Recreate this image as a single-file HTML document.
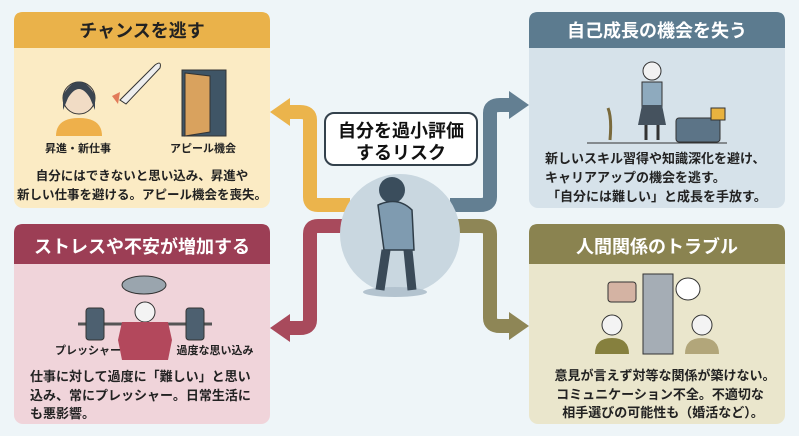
<!DOCTYPE html>
<html><head><meta charset="utf-8"><style>
html,body{margin:0;padding:0;background:#eef5f8;}
svg{display:block;font-family:"Liberation Sans","Noto Sans CJK JP",sans-serif;font-weight:bold;}
</style></head><body>
<svg width="799" height="436" viewBox="0 0 799 436" xmlns="http://www.w3.org/2000/svg">
<rect width="799" height="436" fill="#eef5f8"/>
<g fill="none" stroke-width="14" stroke-linejoin="round">
<path d="M350,205 H318 Q310,205 310,197 V120 Q310,112 300,112 H290" stroke="#ebb44c"/>
<path d="M450,205 H480 Q490,205 490,197 V113 Q490,105 500,105 H512" stroke="#637f92"/>
<path d="M350,226 H318 Q310,226 310,234 V320 Q310,328 300,328 H290" stroke="#a84a5c"/>
<path d="M450,226 H480 Q490,226 490,234 V318 Q490,326 500,326 H512" stroke="#8e8656"/>
</g>
<polygon points="270,112 290,98 290,126" fill="#ebb44c"/>
<polygon points="529,105 509,91 509,119" fill="#637f92"/>
<polygon points="270,328 290,314 290,342" fill="#a84a5c"/>
<polygon points="529,326 509,312 509,340" fill="#8e8656"/>
<circle cx="400" cy="234" r="60" fill="#c9d7e0"/>
<ellipse cx="395" cy="292" rx="32" ry="5" fill="#b3c3cf"/>
<circle cx="392" cy="190" r="13" fill="#3a4d5c"/>
<path d="M378,205 Q398,196 412,210 L414,250 L384,250 Z" fill="#7f9bb0" stroke="#2f3d48" stroke-width="1.5"/>
<path d="M386,250 L380,290 M408,250 L412,290" stroke="#3a4a58" stroke-width="9"/>
<rect x="325" y="113" width="152" height="52" rx="9" fill="#fff" stroke="#33414c" stroke-width="2"/>
<text x="401" y="137" font-size="18" text-anchor="middle" fill="#111">自分を過小評価</text>
<text x="401" y="159" font-size="18" text-anchor="middle" fill="#111">するリスク</text>
<!-- TL -->
<rect x="14" y="12" width="256" height="196" rx="9" fill="#fbebc4"/>
<path d="M14,48 V21 Q14,12 23,12 H261 Q270,12 270,21 V48 Z" fill="#eab24a"/>
<text x="142" y="37" font-size="18" text-anchor="middle" fill="#222">チャンスを逃す</text>
<circle cx="79" cy="98" r="16" fill="#f1dcc5" stroke="#333" stroke-width="1"/>
<path d="M63,95 Q79,68 95,95 L95,110 L90,98 Q79,80 68,98 L63,110Z" fill="#3b4550"/>
<path d="M56,136 Q56,118 79,118 Q102,118 102,136Z" fill="#eeb04b"/>
<path d="M120,100 L155,65 Q162,60 160,68 L126,104Z" fill="#eee" stroke="#333"/>
<path d="M120,92 L112,96 L118,104Z" fill="#e27b5a"/>
<rect x="182" y="70" width="44" height="66" fill="#3f5566" stroke="#333"/>
<path d="M185,73 L210,76 L210,132 L185,136Z" fill="#d9a25e" stroke="#333"/>
<text x="78" y="152" font-size="11" text-anchor="middle" fill="#222">昇進・新仕事</text>
<text x="203" y="152" font-size="11" text-anchor="middle" fill="#222">アピール機会</text>
<text x="142" y="180" font-size="12.5" text-anchor="middle" fill="#222">自分にはできないと思い込み、昇進や</text>
<text x="142" y="199" font-size="12.5" text-anchor="middle" fill="#222">新しい仕事を避ける。アピール機会を喪失。</text>
<!-- TR -->
<rect x="529" y="12" width="256" height="196" rx="9" fill="#d6e2ea"/>
<path d="M529,48 V21 Q529,12 538,12 H776 Q785,12 785,21 V48 Z" fill="#5c7b8f"/>
<text x="657" y="37" font-size="18" text-anchor="middle" fill="#fff">自己成長の機会を失う</text>
<circle cx="652" cy="71" r="9" fill="#f2f2f2" stroke="#333"/>
<rect x="642" y="82" width="20" height="28" fill="#8eaabe" stroke="#333"/>
<path d="M642,105 L638,125 L666,125 L662,105Z" fill="#45525e"/>
<path d="M646,125 V140 M658,125 V140" stroke="#333" stroke-width="3"/>
<path d="M610,140 Q612,118 608,108" stroke="#7a6a3c" stroke-width="3" fill="none"/>
<rect x="676" y="118" width="44" height="24" rx="3" fill="#5c7487" stroke="#333"/>
<rect x="711" y="108" width="14" height="12" fill="#e8b23f" stroke="#333"/>
<line x1="587" y1="143" x2="727" y2="143" stroke="#333"/>
<text x="545" y="163" font-size="13" fill="#222">新しいスキル習得や知識深化を避け、</text>
<text x="545" y="182" font-size="13" fill="#222">キャリアアップの機会を逃す。</text>
<text x="547" y="201" font-size="13" fill="#222">「自分には難しい」と成長を手放す。</text>
<!-- BL -->
<rect x="14" y="224" width="256" height="200" rx="9" fill="#f0d4da"/>
<path d="M14,264 V233 Q14,224 23,224 H261 Q270,224 270,233 V264 Z" fill="#9c3e55"/>
<text x="142" y="253" font-size="18" text-anchor="middle" fill="#fff">ストレスや不安が増加する</text>
<ellipse cx="144" cy="285" rx="22" ry="9" fill="#9aa5ae" stroke="#333"/>
<line x1="78" y1="324" x2="212" y2="324" stroke="#555" stroke-width="3"/>
<rect x="86" y="308" width="18" height="32" rx="3" fill="#4d6070" stroke="#333"/>
<rect x="186" y="308" width="18" height="32" rx="3" fill="#4d6070" stroke="#333"/>
<circle cx="145" cy="312" r="10" fill="#f3f3f3" stroke="#333"/>
<path d="M118,340 L122,322 L168,322 L172,340 L168,360 L122,360Z" fill="#b3485c"/>
<text x="88" y="354" font-size="11" text-anchor="middle" fill="#222">プレッシャー</text>
<text x="215" y="354" font-size="11" text-anchor="middle" fill="#222">過度な思い込み</text>
<text x="30" y="381" font-size="13" fill="#222">仕事に対して過度に「難しい」と思い</text>
<text x="30" y="400" font-size="13" fill="#222">込み、常にプレッシャー。日常生活に</text>
<text x="30" y="418" font-size="13" fill="#222">も悪影響。</text>
<!-- BR -->
<rect x="529" y="224" width="256" height="200" rx="9" fill="#eae6cc"/>
<path d="M529,264 V233 Q529,224 538,224 H776 Q785,224 785,233 V264 Z" fill="#8a8350"/>
<text x="657" y="253" font-size="18" text-anchor="middle" fill="#fff">人間関係のトラブル</text>
<rect x="643" y="274" width="30" height="80" fill="#a5adb5" stroke="#333"/>
<rect x="608" y="282" width="28" height="20" rx="3" fill="#d4b3a3" stroke="#333"/>
<ellipse cx="688" cy="289" rx="12" ry="11" fill="#fff" stroke="#333"/>
<circle cx="612" cy="325" r="10" fill="#f3f3f3" stroke="#333"/>
<path d="M595,354 Q595,338 612,338 Q629,338 629,354Z" fill="#86803e"/>
<circle cx="702" cy="325" r="10" fill="#f3f3f3" stroke="#333"/>
<path d="M685,354 Q685,338 702,338 Q719,338 719,354Z" fill="#b2a67a"/>
<text x="665" y="380" font-size="13" text-anchor="middle" fill="#222">意見が言えず対等な関係が築けない。</text>
<text x="660" y="399" font-size="13" text-anchor="middle" fill="#222">コミュニケーション不全。不適切な</text>
<text x="663" y="417" font-size="13" text-anchor="middle" fill="#222">相手選びの可能性も（婚活など）。</text>
</svg>
</body></html>
